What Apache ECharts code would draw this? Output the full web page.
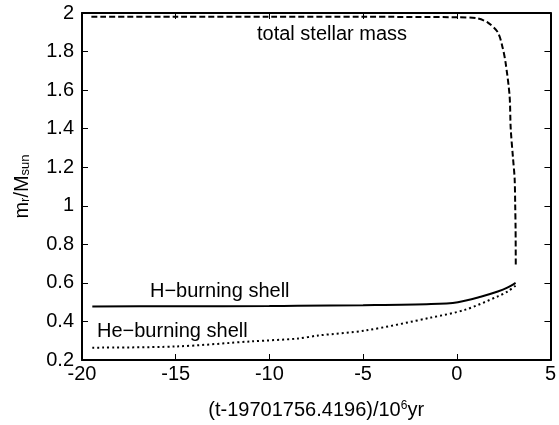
<!DOCTYPE html>
<html>
<head>
<meta charset="utf-8">
<script src="https://cdn.jsdelivr.net/npm/echarts@6/dist/echarts.min.js"></script>
<style>
  html, body { margin: 0; padding: 0; background: #fff; }
  #chart { width: 559px; height: 425px; }
</style>
</head>
<body>
<div id="chart"></div>
<script>
// x: (t-19701756.4196)/10^6 yr, y: m_r/M_sun
const totalX = [-19.5, -15, -10, -5, 0, 1.1, 1.66, 2.19, 2.45, 2.61, 2.82, 2.88, 3.0, 3.09, 3.12, 3.14, 3.15];
const totalY = [1.98, 1.98, 1.98, 1.98, 1.978, 1.972, 1.95, 1.90, 1.82, 1.74, 1.57, 1.40, 1.25, 1.14, 1.0, 0.88, 0.69];

const hX = [-19.45, -15, -10, -8.5, -5, -1.37, 0.06, 1.28, 2.19, 2.7, 3.14];
const hY = [0.478, 0.479, 0.480, 0.481, 0.484, 0.490, 0.500, 0.528, 0.555, 0.575, 0.600];

const heX = [-19.45, -15, -10.9, -8.5, -7.4, -4.87, -1.37, 0.43, 2.19, 2.7, 3.14];
const heY = [0.264, 0.270, 0.297, 0.311, 0.327, 0.353, 0.420, 0.460, 0.530, 0.555, 0.585];

function pairs(xs, ys) {
  return xs.map((x, i) => [x, ys[i]]);
}

let myChart = echarts.init(document.getElementById("chart"));

const font = "Liberation Sans, Arial, Helvetica, sans-serif";
const axisCommon = {
  axisLine: { onZero: false, lineStyle: { color: "#000", width: 2 } },
  axisTick: { inside: true, length: 6, lineStyle: { color: "#000", width: 1 } },
  splitLine: { show: false },
};

let option = {
  animation: false,
  grid: { left: 82, right: 6, top: 13, bottom: 65 },
  xAxis: [
    {
      type: "value",
      min: -20,
      max: 5,
      interval: 5,
      ...axisCommon,
      axisLabel: { color: "#000", fontSize: 20, fontFamily: font, margin: 4 },
      name: "(t-19701756.4196)/10{sup|6}yr",
      nameLocation: "middle",
      nameGap: 40,
      nameTextStyle: {
        color: "#000",
        fontSize: 20,
        fontFamily: font,
        rich: { sup: { fontSize: 12, verticalAlign: "top", fontFamily: font, color: "#000" } },
      },
    },
    {
      type: "value",
      position: "top",
      min: -20,
      max: 5,
      interval: 5,
      ...axisCommon,
      axisLabel: { show: false },
    },
  ],
  yAxis: [
    {
      type: "value",
      min: 0.2,
      max: 2,
      interval: 0.2,
      ...axisCommon,
      axisLabel: {
        color: "#000",
        fontSize: 20,
        fontFamily: font,
        margin: 8,
        formatter: (v) => String(Math.round(v * 10) / 10),
      },
      name: "m{sub|r}/M{sub|sun}",
      nameLocation: "middle",
      nameGap: 50,
      nameTextStyle: {
        color: "#000",
        fontSize: 20,
        fontFamily: font,
        rich: { sub: { fontSize: 13, verticalAlign: "bottom", fontFamily: font, color: "#000" } },
      },
    },
    {
      type: "value",
      position: "right",
      min: 0.2,
      max: 2,
      interval: 0.2,
      ...axisCommon,
      axisLabel: { show: false },
    },
  ],
  series: [
    {
      name: "total stellar mass",
      type: "line",
      showSymbol: false,
      smooth: 0.3,
      lineStyle: { color: "#000", width: 2, type: [6, 3] },
      data: pairs(totalX, totalY),
    },
    {
      name: "H-burning shell",
      type: "line",
      showSymbol: false,
      smooth: 0.3,
      lineStyle: { color: "#000", width: 2 },
      data: pairs(hX, hY),
    },
    {
      name: "He-burning shell",
      type: "line",
      showSymbol: false,
      smooth: 0.3,
      lineStyle: { color: "#000", width: 2, type: [2, 3] },
      data: pairs(heX, heY),
    },
  ],
  graphic: [
    { type: "text", left: 257, top: 24, style: { text: "total stellar mass", font: "20px " + font, fill: "#000" } },
    { type: "text", left: 150, top: 281, style: { text: "H\u2212burning shell", font: "20px " + font, fill: "#000" } },
    { type: "text", left: 97, top: 321, style: { text: "He\u2212burning shell", font: "20px " + font, fill: "#000" } },
  ],
};

myChart.setOption(option);
</script>
</body>
</html>
